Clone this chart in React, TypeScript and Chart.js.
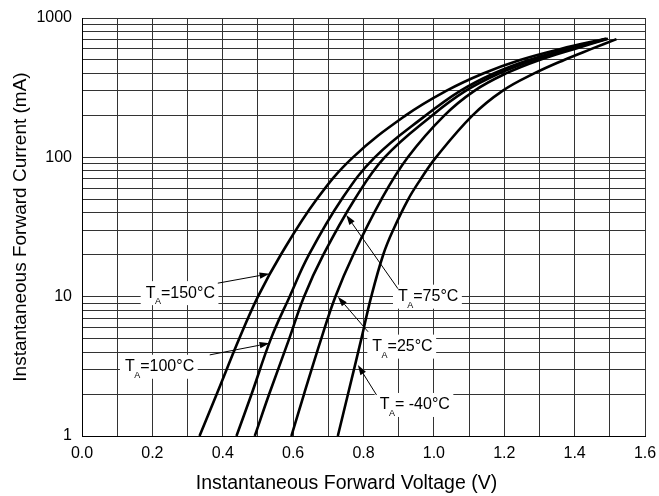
import React, { useEffect, useRef } from 'react';
import { Chart, registerables } from 'chart.js';

Chart.register(...registerables);

// ---------- data ----------
const xTicks = [0, 0.1, 0.2, 0.3, 0.4, 0.5, 0.6, 0.7, 0.8, 0.9, 1.0, 1.1, 1.2, 1.3, 1.4, 1.5, 1.6];
const xTickLabels = ['0.0', '0.2', '0.4', '0.6', '0.8', '1.0', '1.2', '1.4', '1.6'];
const yTicks = [1, 2, 3, 4, 5, 6, 7, 8, 9, 10, 20, 30, 40, 50, 60, 70, 80, 90, 100, 200, 300, 400, 500, 600, 700, 800, 900, 1000];
const yTickLabels = ['1', '10', '100', '1000'];

const xTitle = 'Instantaneous Forward Voltage (V)';
const yTitle = 'Instantaneous Forward Current (mA)';

// forward current levels (mA) and the voltage (V) read for each curve
const iLevels = [1, 2, 5, 10, 20, 50, 100, 200, 300, 400, 500, 600, 710];
const iLevelsM40 = [1, 2, 5, 10, 20, 30, 50, 70, 100, 200, 300, 400, 500, 600, 705];

const v150 = [0.334, 0.383, 0.447, 0.5, 0.565, 0.667, 0.77, 0.92, 1.035, 1.14, 1.245, 1.36, 1.488];
const v100 = [0.439, 0.482, 0.537, 0.59, 0.645, 0.738, 0.832, 0.977, 1.075, 1.17, 1.27, 1.38, 1.49];
const v75 = [0.491, 0.532, 0.589, 0.631, 0.686, 0.775, 0.86, 0.995, 1.09, 1.185, 1.285, 1.39, 1.492];
const v25 = [0.595, 0.631, 0.68, 0.72, 0.771, 0.851, 0.926, 1.03, 1.115, 1.205, 1.3, 1.4, 1.495];
const vm40 = [0.727, 0.756, 0.794, 0.822, 0.856, 0.884, 0.927, 0.963, 1.006, 1.11, 1.195, 1.285, 1.37, 1.448, 1.519];

const seriesNames = ['TA=150°C', 'TA=100°C', 'TA=75°C', 'TA=25°C', 'TA=-40°C'];
const seriesV = [v150, v100, v75, v25, vm40];
const seriesI = [iLevels, iLevels, iLevels, iLevels, iLevelsM40];

// label annotations (data coordinates): text left/middle, arrow start, arrow tip
const labelRest = ['=150°C', '=100°C', '=75°C', '=25°C', '= -40°C'];
const labelV = [0.181, 0.122, 0.898, 0.825, 0.846];
const labelI = [10.6, 3.14, 10.0, 4.38, 1.67];
const arrowFromV = [0.386, 0.363, 0.898, 0.813, 0.837];
const arrowFromI = [12.5, 3.82, 11.4, 5.6, 1.97];
const arrowTipV = [0.533, 0.533, 0.751, 0.727, 0.784];
const arrowTipI = [14.6, 4.63, 38.6, 10.0, 3.23];

const FONT = '"Liberation Sans", Arial, Helvetica, sans-serif';

const labelPlugin = {
  id: 'tempLabels',
  beforeDatasetsDraw(chart: any) {
    const { ctx } = chart;
    const x = chart.scales.x;
    const y = chart.scales.y;
    ctx.save();
    const items = labelRest.map((rest, k) => {
      const lx = x.getPixelForValue(labelV[k]);
      const ly = y.getPixelForValue(labelI[k]);
      ctx.font = `16px ${FONT}`;
      const wT = ctx.measureText('T').width;
      const wR = ctx.measureText(rest).width;
      ctx.font = `9px ${FONT}`;
      const wA = ctx.measureText('A').width;
      return { lx, ly, wT, wA, wR, rest, k };
    });
    // white boxes
    ctx.fillStyle = '#ffffff';
    items.forEach((it) => {
      ctx.fillRect(it.lx - 5, it.ly - 12, it.wT + it.wA + it.wR + 8, 24);
    });
    // text
    ctx.fillStyle = '#000000';
    ctx.textAlign = 'left';
    ctx.textBaseline = 'middle';
    items.forEach((it) => {
      ctx.font = `16px ${FONT}`;
      ctx.fillText('T', it.lx, it.ly);
      ctx.fillText(it.rest, it.lx + it.wT + it.wA - 0.5, it.ly);
      ctx.font = `9px ${FONT}`;
      ctx.fillText('A', it.lx + it.wT - 0.5, it.ly + 8.5);
    });
    // arrows
    ctx.strokeStyle = '#000000';
    ctx.lineWidth = 1;
    items.forEach((it) => {
      const k = it.k;
      const fx = x.getPixelForValue(arrowFromV[k]);
      const fy = y.getPixelForValue(arrowFromI[k]);
      const tx = x.getPixelForValue(arrowTipV[k]);
      const ty = y.getPixelForValue(arrowTipI[k]);
      const ang = Math.atan2(ty - fy, tx - fx);
      const len = 10;
      const hw = 3.2;
      const bx = tx - Math.cos(ang) * len;
      const by = ty - Math.sin(ang) * len;
      ctx.beginPath();
      ctx.moveTo(fx, fy);
      ctx.lineTo(bx, by);
      ctx.stroke();
      ctx.beginPath();
      ctx.moveTo(tx, ty);
      ctx.lineTo(bx + Math.sin(ang) * hw, by - Math.cos(ang) * hw);
      ctx.lineTo(bx - Math.sin(ang) * hw, by + Math.cos(ang) * hw);
      ctx.closePath();
      ctx.fill();
    });
    // x-axis title (slightly left of plot centre, as in the reference)
    ctx.font = `19.5px ${FONT}`;
    ctx.textAlign = 'center';
    ctx.textBaseline = 'middle';
    ctx.fillText(xTitle, (x.left + x.right) / 2 - 17, chart.height - 12);
    ctx.restore();
  },
};

export default function App() {
  const ref = useRef<HTMLCanvasElement | null>(null);

  useEffect(() => {
    if (!ref.current) return;
    const datasets = seriesNames.map((name, s) => ({
      label: name,
      data: seriesV[s].map((v, i) => ({ x: v, y: seriesI[s][i] })),
      borderColor: '#000000',
      borderWidth: 2.6,
      pointRadius: 0,
      fill: false,
      tension: 0.4,
    }));

    const chart = new Chart(ref.current, {
      type: 'line',
      data: { datasets },
      plugins: [labelPlugin],
      options: {
        animation: false,
        responsive: false,
        maintainAspectRatio: false,
        layout: { padding: { left: 0, top: 18, right: 14, bottom: 0 } },
        plugins: {
          legend: { display: false },
          tooltip: { enabled: false },
        },
        scales: {
          x: {
            type: 'linear',
            min: 0,
            max: 1.6,
            afterBuildTicks: (scale: any) => {
              scale.ticks = xTicks.map((v) => ({ value: v }));
            },
            afterFit: (scale: any) => {
              scale.height = 60;
              scale.paddingLeft = 0;
              scale.paddingRight = 0;
            },
            ticks: {
              autoSkip: false,
              maxRotation: 0,
              padding: 8,
              color: '#000',
              font: { family: FONT, size: 16 },
              callback: (_v: any, index: number) => (index % 2 === 0 ? xTickLabels[index / 2] : ''),
            },
            grid: { color: '#333', lineWidth: 1, drawTicks: false },
            border: { display: true, color: '#000', width: 1 },
            title: { display: false, text: xTitle },
          },
          y: {
            type: 'logarithmic',
            min: 1,
            max: 1000,
            afterBuildTicks: (scale: any) => {
              scale.ticks = yTicks.map((v) => ({ value: v }));
            },
            afterFit: (scale: any) => {
              scale.width = 82;
              scale.paddingTop = 0;
              scale.paddingBottom = 0;
            },
            ticks: {
              autoSkip: false,
              padding: 10,
              color: '#000',
              font: { family: FONT, size: 16 },
              callback: (v: any) => {
                const idx = [1, 10, 100, 1000].indexOf(Number(v));
                return idx >= 0 ? yTickLabels[idx] : '';
              },
            },
            grid: { color: '#333', lineWidth: 1, drawTicks: false },
            border: { display: true, color: '#000', width: 1 },
            title: {
              display: true,
              text: yTitle,
              color: '#000',
              font: { family: FONT, size: 19 },
              padding: { top: 9, bottom: 0 },
            },
          },
        },
      },
    });
    return () => chart.destroy();
  }, []);

  return (
    <div style={{ position: 'absolute', left: 0, top: 0, width: 659, height: 496, background: '#fff' }}>
      <canvas ref={ref} width={659} height={496} style={{ width: 659, height: 496 }} />
    </div>
  );
}
